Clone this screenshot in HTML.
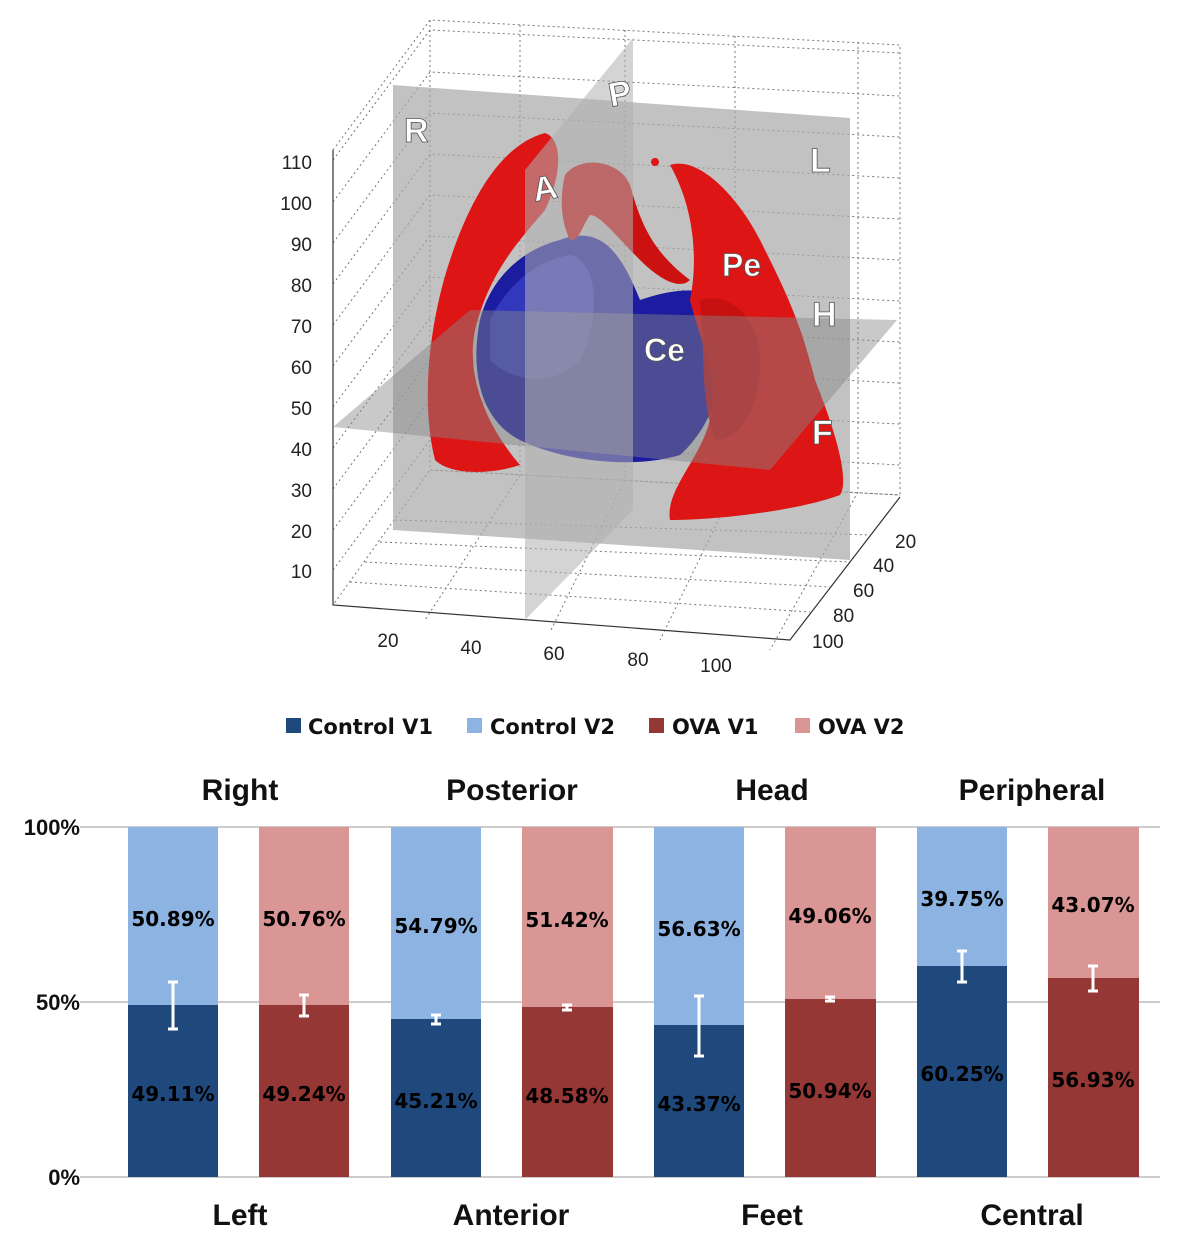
<!DOCTYPE html>
<html><head><meta charset="utf-8"><style>
body{margin:0;background:#fff;width:1182px;height:1246px;overflow:hidden;font-family:"Liberation Sans",Arial,sans-serif}
</style></head><body>
<svg width="1182" height="1246" viewBox="0 0 1182 1246" xmlns="http://www.w3.org/2000/svg" font-family="Liberation Sans, Arial, sans-serif">
<g stroke="#777" stroke-width="1" stroke-dasharray="2,3" fill="none">
<path d="M333,150 L430,20 L900,45 L900,495 L430,470 L333,605"/>
<path d="M430,20 L430,470"/>
<path d="M333,150 L333,605"/>
<path d="M430,470 L900,495"/>
<path d="M520,25 L520,475 L425,620"/>
<path d="M625,30 L625,480 L550,632"/>
<path d="M735,36 L735,486 L660,640"/>
<path d="M858,42 L858,492 L770,650"/>
<path d="M333,160 L430,30 L900,53"/>
<path d="M333,202 L430,72 L900,96"/>
<path d="M333,243 L430,113 L900,137"/>
<path d="M333,284 L430,154 L900,178"/>
<path d="M333,325 L430,195 L900,219"/>
<path d="M333,366 L430,236 L900,260"/>
<path d="M333,407 L430,277 L900,301"/>
<path d="M333,448 L430,318 L900,342"/>
<path d="M333,489 L430,359 L900,383"/>
<path d="M333,530 L430,400 L900,424"/>
<path d="M333,570 L430,440 L900,465"/>
<path d="M350,582 L810,612"/><path d="M365,562 L830,587"/><path d="M380,542 L850,562"/><path d="M395,520 L870,535"/>
</g>
<g stroke="#333" stroke-width="1.2" fill="none">
<path d="M333,150 L333,605 L790,640 L900,497"/>
</g>
<g font-size="19" fill="#222">
<text x="312" y="169" text-anchor="end">110</text>
<text x="312" y="210" text-anchor="end">100</text>
<text x="312" y="251" text-anchor="end">90</text>
<text x="312" y="292" text-anchor="end">80</text>
<text x="312" y="333" text-anchor="end">70</text>
<text x="312" y="374" text-anchor="end">60</text>
<text x="312" y="415" text-anchor="end">50</text>
<text x="312" y="456" text-anchor="end">40</text>
<text x="312" y="497" text-anchor="end">30</text>
<text x="312" y="538" text-anchor="end">20</text>
<text x="312" y="578" text-anchor="end">10</text>
<text x="388" y="647" text-anchor="middle">20</text>
<text x="471" y="654" text-anchor="middle">40</text>
<text x="554" y="660" text-anchor="middle">60</text>
<text x="638" y="666" text-anchor="middle">80</text>
<text x="716" y="672" text-anchor="middle">100</text>
<text x="895" y="548">20</text>
<text x="873" y="572">40</text>
<text x="853" y="597">60</text>
<text x="833" y="622">80</text>
<text x="812" y="648">100</text>
</g>
<polygon points="393,85 850,118 850,560 393,530" fill="#a8a8a8" opacity="0.7"/>
<path d="M560,240 C600,225 620,250 640,300 C670,290 700,285 720,300 C735,350 720,420 680,455 C630,470 560,460 520,440 C480,420 470,370 480,320 C490,280 520,250 560,240 Z" fill="#1c1ca0"/>
<path d="M490,320 C510,280 540,260 570,255 C600,262 600,320 580,360 C550,390 510,380 490,360 Z" fill="#3a45c8" opacity="0.7"/>
<path d="M435,460 C420,400 430,320 450,260 C470,200 500,145 545,133 C565,140 560,180 545,210 C520,240 490,270 475,330 C465,380 490,430 520,465 C490,475 450,475 435,460 Z" fill="#dd1515"/>
<path d="M565,175 C580,155 620,160 630,185 C640,220 650,250 690,280 C680,290 660,280 640,260 C615,235 600,215 590,215 C580,230 580,240 570,240 C560,220 560,195 565,175 Z" fill="#cc1111"/>
<path d="M670,165 C700,155 740,200 760,240 C785,290 800,320 815,380 C835,430 850,480 840,495 C800,510 720,520 670,520 C665,490 700,460 710,420 C720,380 700,340 690,300 C700,250 690,200 670,165 Z" fill="#dd1515"/>
<path d="M700,300 C730,290 760,320 760,360 C760,410 740,440 715,440 C700,400 705,350 700,300 Z" fill="#c41010" opacity="0.9"/>
<circle cx="655" cy="162" r="4" fill="#dd1515"/>
<polygon points="333,427 470,310 897,320 770,470" fill="#888" opacity="0.45"/>
<polygon points="525,170 633,38 633,510 525,620" fill="#b0b0b0" opacity="0.55"/>
<g font-weight="bold" fill="#fff" stroke="#555" stroke-width="0.8" font-size="34">
<text x="404" y="142">R</text>
<text x="608" y="105" transform="rotate(-10 620 90)">P</text>
<text x="810" y="172">L</text>
<text x="532" y="200" transform="rotate(-10 543 185)">A</text>
<text x="722" y="276" font-size="32">Pe</text>
<text x="812" y="326">H</text>
<text x="644" y="361" font-size="32">Ce</text>
<text x="812" y="444">F</text>
</g>
<g font-size="21" font-weight="bold" fill="#111" font-family="DejaVu Sans, sans-serif">
<rect x="286" y="718" width="15" height="15" fill="#1F497D"/><text x="308" y="734">Control V1</text>
<rect x="467" y="718" width="15" height="15" fill="#8DB3E2"/><text x="490" y="734">Control V2</text>
<rect x="649" y="718" width="15" height="15" fill="#953735"/><text x="672" y="734">OVA V1</text>
<rect x="795" y="718" width="15" height="15" fill="#D99694"/><text x="818" y="734">OVA V2</text>
</g>
<g font-size="30" font-weight="bold" fill="#111" text-anchor="middle">
<text x="240" y="800">Right</text><text x="512" y="800">Posterior</text><text x="772" y="800">Head</text><text x="1032" y="800">Peripheral</text>
<text x="240" y="1225">Left</text><text x="511" y="1225">Anterior</text><text x="772" y="1225">Feet</text><text x="1032" y="1225">Central</text>
</g>
<g font-size="22" font-weight="bold" fill="#111" text-anchor="end">
<text x="80" y="835">100%</text><text x="80" y="1010">50%</text><text x="80" y="1185">0%</text>
</g>
<g stroke="#999" stroke-width="1"><path d="M80,827H1160M80,1002H1160M80,1177H1160"/></g>
<g>
<rect x="128" y="827" width="90" height="350" fill="#8DB3E2"/><rect x="128" y="1005" width="90" height="172" fill="#1F497D"/>
<rect x="259" y="827" width="90" height="350" fill="#D99694"/><rect x="259" y="1005" width="90" height="172" fill="#953735"/>
<rect x="391" y="827" width="90" height="350" fill="#8DB3E2"/><rect x="391" y="1019" width="90" height="158" fill="#1F497D"/>
<rect x="522" y="827" width="91" height="350" fill="#D99694"/><rect x="522" y="1007" width="91" height="170" fill="#953735"/>
<rect x="654" y="827" width="90" height="350" fill="#8DB3E2"/><rect x="654" y="1025" width="90" height="152" fill="#1F497D"/>
<rect x="785" y="827" width="91" height="350" fill="#D99694"/><rect x="785" y="999" width="91" height="178" fill="#953735"/>
<rect x="917" y="827" width="90" height="350" fill="#8DB3E2"/><rect x="917" y="966" width="90" height="211" fill="#1F497D"/>
<rect x="1048" y="827" width="91" height="350" fill="#D99694"/><rect x="1048" y="978" width="91" height="199" fill="#953735"/>
</g>
<g stroke="#fff" stroke-width="3" fill="none">
<path d="M173,982V1029M168,982H178M168,1029H178"/>
<path d="M304,995V1016M299,995H309M299,1016H309"/>
<path d="M436,1015V1024M431,1015H441M431,1024H441"/>
<path d="M567,1005V1010M562,1005H572M562,1010H572"/>
<path d="M699,996V1056M694,996H704M694,1056H704"/>
<path d="M830,997V1001M825,997H835M825,1001H835"/>
<path d="M962,951V982M957,951H967M957,982H967"/>
<path d="M1093,966V991M1088,966H1098M1088,991H1098"/>
</g>
<g font-size="20" font-weight="bold" fill="#000" text-anchor="middle" font-family="DejaVu Sans, sans-serif">
<text x="173" y="926">50.89%</text><text x="304" y="926">50.76%</text>
<text x="436" y="933">54.79%</text><text x="567" y="927">51.42%</text>
<text x="699" y="936">56.63%</text><text x="830" y="923">49.06%</text>
<text x="962" y="906">39.75%</text><text x="1093" y="912">43.07%</text>
<text x="173" y="1101">49.11%</text><text x="304" y="1101">49.24%</text>
<text x="436" y="1108">45.21%</text><text x="567" y="1103">48.58%</text>
<text x="699" y="1111">43.37%</text><text x="830" y="1098">50.94%</text>
<text x="962" y="1081">60.25%</text><text x="1093" y="1087">56.93%</text>
</g>
</svg>
</body></html>
